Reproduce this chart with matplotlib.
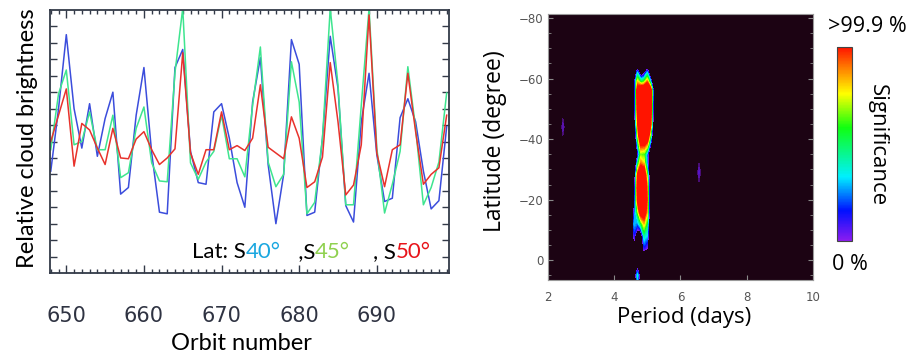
import numpy as np
import matplotlib
matplotlib.use("Agg")
import matplotlib.pyplot as plt
from matplotlib.colors import LinearSegmentedColormap, Normalize
from matplotlib.cm import ScalarMappable
from matplotlib.ticker import MultipleLocator

# ---- left panel: relative cloud brightness vs orbit number ----
orbits = np.arange(648, 700)
s40 = [-1.8, 2.0, 6.5, 2.0, -0.4, 2.3, -0.9, 1.4, 3.0, -3.2, -2.8, 1.6, 4.5,
       -0.7, -4.3, -4.4, 4.5, 5.6, -0.6, -2.5, -2.6, 1.8, 2.3, 0.2, -2.5, -4.0,
       2.4, 5.1, -1.4, -5.0, -2.0, 6.2, 4.7, -4.5, -4.3, 0.2, 6.4, 3.25, -3.9,
       -4.9, 1.2, 4.15, -0.8, -3.65, -3.45, 1.45, 2.6, 1.2, -1.8, -4.1, -3.6, 0.9]
s45 = [-0.5, 2.9, 4.35, -0.2, 0.0, 1.8, -0.5, -0.5, 1.6, -2.2, -1.9, 0.8, 2.1,
       -1.3, -2.4, -2.45, 4.2, 8.1, -1.3, -2.3, -1.25, -0.6, 1.6, -1.05, -1.05, -2.15,
       2.2, 5.75, -1.25, -2.75, -2.0, 4.85, 2.4, -4.4, -3.7, 0.2, 8.1, 3.45, -3.85,
       -3.85, 2.2, 8.1, -0.4, -4.35, -2.6, -0.6, 4.55, 0.8, -3.85, -2.8, -1.25, 2.95]
s50 = [0.0, 1.6, 3.2, -1.5, 1.1, 0.7, -0.4, -1.4, 0.8, -1.0, -1.05, 0.15, 0.6,
       -0.5, -1.4, -1.0, -0.45, 5.4, -0.7, -2.0, -0.5, -0.5, 1.8, -0.5, -0.25, -0.55,
       0.2, 3.45, -0.35, -0.7, -1.05, 1.5, 0.2, -2.8, -2.45, -0.95, 4.8, 1.2, -3.25,
       -2.65, -0.2, 7.7, -0.7, -2.75, -0.5, -0.2, 4.15, 0.6, -2.6, -2.0, -1.6, 1.6]

# ---- right panel: significance map (latitude x period) ----
periods = [4.3, 4.5, 4.6, 4.7, 4.8, 4.9, 5.0, 5.1, 5.2, 5.4]
lats = [-70, -66, -62, -59, -56, -50, -45, -41, -38, -35, -32, -28, -24, -20,
        -16, -12, -8, -4, 0, 3, 5, 8]
signif = [
    [-1, -1, -1, -1, -1, -1, -1, -1, -1, -1],
    [-1, -1, -1, -0.9, -1, -1, -0.9, -1, -1, -1],
    [-1, -1, -0.6, 0.3, -0.3, -0.1, 0.3, -0.5, -1, -1],
    [-1, -1, -0.1, 0.8, 0.5, 0.6, 0.9, 0.3, -0.9, -1],
    [-1, -1, -0.2, 1.2, 1.5, 1.5, 1.5, 1.2, -0.2, -1],
    [-1, -1, -0.2, 1.1, 1.5, 1.5, 1.5, 1.15, -0.3, -1],
    [-1, -1, -0.4, 0.9, 1.5, 1.5, 1.5, 1.05, -0.5, -1],
    [-1, -1, -0.6, 0.6, 1.4, 1.4, 1.3, 0.5, -0.8, -1],
    [-1, -1, -0.8, 0.3, 1.0, 1.0, 0.8, 0.0, -1, -1],
    [-1, -1, -0.9, -0.1, 0.65, 0.6, 0.2, -0.6, -1, -1],
    [-1, -1, -0.7, 0.4, 0.9, 0.8, 0.2, -0.7, -1, -1],
    [-1, -1, -0.4, 1.0, 1.4, 1.3, 0.6, -0.6, -1, -1],
    [-1, -1, -0.2, 1.1, 1.5, 1.4, 0.85, -0.6, -1, -1],
    [-1, -1, -0.1, 1.0, 1.5, 1.4, 0.9, -0.6, -1, -1],
    [-1, -1, 0.1, 0.6, 1.2, 1.2, 0.8, -0.6, -1, -1],
    [-1, -1, 0.3, 0.2, 0.5, 0.8, 0.5, -0.7, -1, -1],
    [-1, -1, 0.1, -0.3, -0.3, 0.4, 0.3, -0.8, -1, -1],
    [-1, -1, -0.2, -0.6, -0.5, 0.1, 0.0, -0.9, -1, -1],
    [-1, -1, -0.5, -0.3, -0.6, -0.4, -0.5, -1, -1, -1],
    [-1, -1, -0.6, 0.05, -0.5, -0.8, -1, -1, -1, -1],
    [-1, -1, -0.4, 0.4, -0.3, -0.9, -1, -1, -1, -1],
    [-1, -1, -0.6, 0.2, -0.5, -1, -1, -1, -1, -1],
]
# two faint spots
spot1_p = [2.35, 2.45, 2.55]
spot1_lat = [-52, -44, -36]
spot1_val = [[-0.1, -0.1, -0.1], [-0.1, 0.05, -0.1], [-0.1, -0.1, -0.1]]
spot2_p = [6.45, 6.56, 6.67]
spot2_lat = [-37, -29, -21]
spot2_val = [[-0.1, -0.1, -0.1], [-0.1, 0.06, -0.1], [-0.1, -0.1, -0.1]]

W, H = 912, 356
fig = plt.figure(figsize=(W / 100, H / 100), dpi=100)

ax1 = fig.add_axes([50 / W, 1 - 273 / H, 399 / W, 263 / H])
ax1.plot(orbits, s40, color='#3b4ddc', lw=1.1)
ax1.plot(orbits, s45, color='#3ee58f', lw=1.1)
ax1.plot(orbits, s50, color='#e8322c', lw=1.1)
ax1.set_xlim(647.9, 699.3)
ax1.set_ylim(-8, 8)
ax1.set_xticks(range(650, 700, 10))
ax1.xaxis.set_minor_locator(MultipleLocator(1))
ax1.set_yticks(np.arange(-7, 8))
ax1.tick_params(which='both', direction='in', top=True, right=True,
                labelleft=False, color='#333a48', width=1.0)
ax1.tick_params(axis='x', which='major', length=6, pad=24,
                labelsize=15, labelcolor='#2f3342')
ax1.tick_params(axis='x', which='minor', length=3)
ax1.tick_params(axis='y', length=5)
for sp in ax1.spines.values():
    sp.set_color('#333a48')
    sp.set_linewidth(1.3)

fig.text(28 / W, 1 - 138 / H, 'Relative cloud brightness', rotation=90,
         ha='center', va='center', fontsize=17, family='Lato')
fig.text(241 / W, 1 - 343 / H, 'Orbit number', ha='center', va='center',
         fontsize=17, family='Lato')

# coloured latitude legend
pieces = [('Lat: S', 'black'), ('40°', '#1aa7e0'), ('   ,S', 'black'),
          ('45°', '#8fd14f'), ('    , S', 'black'), ('50°', '#e8141a')]
t = ax1.text(192 / W, 1 - 258 / H, pieces[0][0], transform=fig.transFigure,
             color=pieces[0][1], fontsize=16, family='Lato', va='baseline')
for txt, col in pieces[1:]:
    t = ax1.annotate(txt, xy=(1, 0), xycoords=t, va='bottom', ha='left',
                     color=col, fontsize=16, family='Lato')

# ---- right panel ----
cmap = LinearSegmentedColormap.from_list('sig', [
    (0.0, '#8a1cf0'), (0.155, '#0010ff'), (0.33, '#00f0ff'), (0.585, '#10ff10'),
    (0.76, '#ffff00'), (0.865, '#ff9900'), (1.0, '#ff1400')])
bg = '#1c0313'
cmap.set_under(bg)
cmap.set_over('#ff1400')
norm = Normalize(0, 1)
levels = np.linspace(0, 1, 41)

ax2 = fig.add_axes([548 / W, 1 - 280 / H, 265 / W, 266 / H])
ax2.set_facecolor(bg)
ax2.contourf(periods, lats, signif, levels=levels, cmap=cmap, norm=norm, extend='both')
ax2.contourf(spot1_p, spot1_lat, spot1_val, levels=levels, cmap=cmap, norm=norm,
             extend='both', alpha=0.45)
ax2.contourf(spot2_p, spot2_lat, spot2_val, levels=levels, cmap=cmap, norm=norm,
             extend='both', alpha=0.45)
ax2.set_xlim(2, 10)
ax2.set_ylim(6.5, -81.3)
ax2.set_xticks([2, 4, 6, 8, 10])
ax2.set_yticks([-80, -60, -40, -20, 0])
ax2.yaxis.set_minor_locator(MultipleLocator(5))
ax2.tick_params(which='both', direction='in', right=True, color='#8a8a8a',
                labelsize=8.5, labelcolor='#555555')
ax2.tick_params(axis='x', pad=8)
ax2.tick_params(axis='y', which='minor', length=2.5)
for sp in ax2.spines.values():
    sp.set_color('#9a9a9a')
    sp.set_linewidth(0.8)

fig.text(495 / W, 1 - 141 / H, 'Latitude (degree)', rotation=90, ha='center',
         va='center', fontsize=16.5, family='Open Sans')
fig.text(684 / W, 1 - 317 / H, 'Period (days)', ha='center', va='center',
         fontsize=16, family='Open Sans')

cax = fig.add_axes([837 / W, 1 - 241 / H, 15 / W, 194 / H])
cb = fig.colorbar(ScalarMappable(norm=norm, cmap=cmap), cax=cax, ticks=[])
cb.outline.set_edgecolor('#444444')
cb.outline.set_linewidth(0.8)
fig.text(867 / W, 1 - 27 / H, '>99.9 %', ha='center', va='center',
         fontsize=15.5, family='Open Sans')
fig.text(850 / W, 1 - 265 / H, '0 %', ha='center', va='center',
         fontsize=15.5, family='Open Sans')
fig.text(877 / W, 1 - 145 / H, 'Significance', rotation=270, ha='center',
         va='center', fontsize=16, family='Open Sans')

fig.savefig('out.png', dpi=100)
